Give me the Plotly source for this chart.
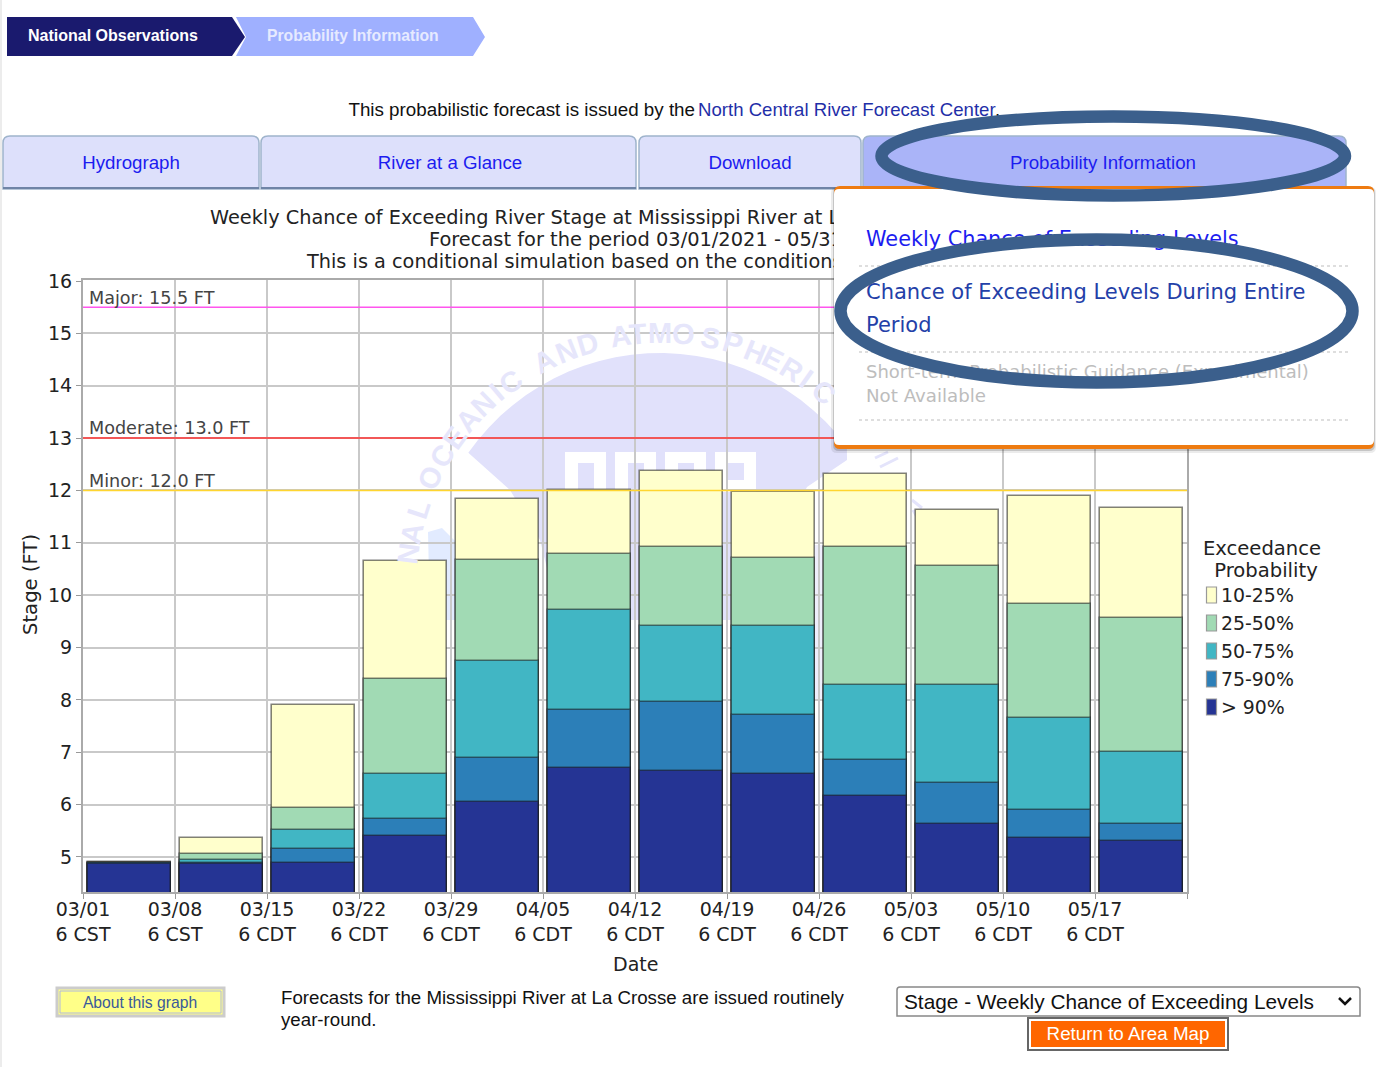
import math
import plotly.graph_objects as go

# ---------- chart data ----------
week_dates = ["03/01", "03/08", "03/15", "03/22", "03/29", "04/05", "04/12", "04/19", "04/26", "05/03", "05/10", "05/17"]
week_zones = ["CST", "CST", "CDT", "CDT", "CDT", "CDT", "CDT", "CDT", "CDT", "CDT", "CDT", "CDT"]
stage_p10 = [4.90, 5.36, 7.90, 10.65, 11.84, 12.01, 12.37, 11.97, 12.31, 11.63, 11.89, 11.66]
stage_p25 = [4.89, 5.06, 5.93, 8.40, 10.67, 10.79, 10.92, 10.71, 10.92, 10.56, 9.83, 9.56]
stage_p50 = [4.89, 4.94, 5.51, 6.58, 8.74, 9.72, 9.41, 9.41, 8.28, 8.28, 7.65, 7.00]
stage_p75 = [4.88, 4.88, 5.15, 5.72, 6.89, 7.81, 7.96, 7.71, 6.85, 6.41, 5.90, 5.63]
stage_p90 = [4.86, 4.86, 4.88, 5.40, 6.05, 6.70, 6.64, 6.58, 6.16, 5.63, 5.36, 5.30]
band_names = ["10-25%", "25-50%", "50-75%", "75-90%", "> 90%"]
band_colors = ["#ffffcc", "#a1dab4", "#41b6c4", "#2c7fb8", "#253494"]
flood_labels = ["Major: 15.5 FT", "Moderate: 13.0 FT", "Minor: 12.0 FT"]
flood_levels = [15.5, 13.0, 12.0]
flood_colors = ["#ff55ee", "#ff3030", "#ffd530"]
stage_ticks = [5, 6, 7, 8, 9, 10, 11, 12, 13, 14, 15, 16]

W, H = 1376, 1067
DJ = "DejaVu Sans"
LS = "Liberation Sans"
BLUE = "#1c1cf0"
LAV = "#e1e1fb"

fig = go.Figure()
shapes, annos = [], []


def px(x):
    return x / W


def py(y):
    return 1 - y / H


def path_str(points, close=True):
    s = "M" + " L".join(f"{px(x):.5f},{py(y):.5f}" for x, y in points)
    return s + (" Z" if close else "")


def poly(points, fill, line=None, lw=0, layer="below"):
    shapes.append(dict(type="path", xref="paper", yref="paper", path=path_str(points), fillcolor=fill,
                       line=dict(color=line or "rgba(0,0,0,0)", width=lw), layer=layer))


def rect(x0, y0, x1, y1, fill, line=None, lw=0, layer="below"):
    shapes.append(dict(type="rect", xref="paper", yref="paper", x0=px(x0), x1=px(x1), y0=py(y0), y1=py(y1),
                       fillcolor=fill, line=dict(color=line or "rgba(0,0,0,0)", width=lw), layer=layer))


def seg(x0, y0, x1, y1, color, lw=1, dash="solid"):
    shapes.append(dict(type="line", xref="paper", yref="paper", x0=px(x0), x1=px(x1), y0=py(y0), y1=py(y1),
                       line=dict(color=color, width=lw, dash=dash), layer="below"))


def rounded(x0, y0, x1, y1, r):
    return (f"M{px(x0)},{py(y1)} L{px(x0)},{py(y0 + r)} Q{px(x0)},{py(y0)} {px(x0 + r)},{py(y0)} "
            f"L{px(x1 - r)},{py(y0)} Q{px(x1)},{py(y0)} {px(x1)},{py(y0 + r)} L{px(x1)},{py(y1)} Z")


def text(x, y, s, size, color="#111111", family=LS, pos="middle right", axes=("x2", "y2"), dy=2):
    fig.add_trace(go.Scatter(x=[x], y=[y + dy], text=[s], mode="text", textposition=pos,
                             textfont=dict(size=size, color=color, family=family), xaxis=axes[0], yaxis=axes[1],
                             showlegend=False, hoverinfo="skip", cliponaxis=False))


# ---------- page background, lowest layer ----------
rect(0, 0, 2, 1067, "#ececec")
# NOAA watermark
cx, cy = 660, 587
arc = [(cx + 234 * math.sin(math.radians(a)), cy - 234 * math.cos(math.radians(a))) for a in range(-55, 56, 4)]
poly(arc + [(847, 460), (807, 487), (790, 520), (780, 620), (560, 620), (540, 540), (510, 490)], LAV)
poly([(428, 532), (442, 528), (456, 542), (470, 620), (430, 620)], "#e2ebff")
poly([(810, 545), (830, 545), (830, 700), (810, 700)], "#eeeefc")
for x0 in (565, 615, 665, 715):
    rect(x0, 452, x0 + 41, 492, "#ffffff")
    rect(x0 + 13, 463, x0 + 29, 480 if x0 > 650 else 492, LAV)
for a, b, c, d in [(875, 458, 888, 452), (880, 467, 898, 458), (912, 500, 922, 508), (913, 510, 923, 527)]:
    seg(a, b, c, d, "#e4e4fb", 3)

# breadcrumb
poly([(7, 17), (232, 17), (245, 37), (232, 56), (7, 56)], "#1a1a6e")
poly([(236, 17), (473, 17), (485, 37), (473, 56), (236, 56), (246, 37)], "#9fb0ff")
# tabs
for x0, x1, fill in [(3, 259, "#dde0fb"), (261, 636, "#dde0fb"), (639, 861, "#dde0fb"), (863, 1346, "#aab4f8")]:
    shapes.append(dict(type="path", xref="paper", yref="paper", path=rounded(x0, 136, x1, 189, 7), fillcolor=fill,
                       line=dict(color="#9fb4cc", width=1.5), layer="below"))
    seg(x0, 188, x1, 188, "#6f84a6", 2)
# bottom controls
rect(57, 988, 224, 1016, "#ffff88", "#cccccc", 3)
rect(60, 991, 221, 1013, "rgba(0,0,0,0)", "#b0b8e0", 1)
shapes.append(dict(type="path", xref="paper", yref="paper", path=rounded(897, 987, 1360, 1016, 3), fillcolor="#ffffff",
                   line=dict(color="#888888", width=1.5), layer="below"))
shapes.append(dict(type="path", xref="paper", yref="paper",
                   path=path_str([(1339, 998), (1345, 1004), (1351, 998)], close=False),
                   fillcolor="rgba(0,0,0,0)", line=dict(color="#111111", width=2.5), layer="below"))
rect(1028, 1018, 1228, 1050, "#ffffff", "#666666", 2)
rect(1031, 1021, 1225, 1047, "#ff6600")

# ---------- bars and flood lines on the chart axes ----------
for name, values, color in zip(band_names, [stage_p10, stage_p25, stage_p50, stage_p75, stage_p90], band_colors):
    fig.add_trace(go.Bar(x=[i + 0.505 for i in range(len(week_dates))], y=values, width=0.895, name=name,
                         marker=dict(color=color, line=dict(color="rgba(25,25,25,0.55)", width=1.6)),
                         showlegend=False, hoverinfo="skip"))
for label, level, color in zip(flood_labels, flood_levels, flood_colors):
    fig.add_trace(go.Scatter(x=[0, len(week_dates)], y=[level, level], mode="lines", name=label,
                             line=dict(color=color, width=1.5), showlegend=False, hoverinfo="skip"))

# ---------- text below the pop-up ----------
text(695, 109, "This probabilistic forecast is issued by the", 18.8, "#111111", LS, "middle left")
text(698, 109, "North Central River Forecast Center", 18.6, "#1f2fa8")
text(995, 109, ".", 18.6, "#111111")
text(28, 36, "<b>National Observations</b>", 16, "#ffffff", dy=1)
text(267, 36, "<b>Probability Information</b>", 15.7, "#e6eaff", dy=1)
text(131, 162, "Hydrograph", 18.7, BLUE, LS, "middle center")
text(450, 162, "River at a Glance", 18.7, BLUE, LS, "middle center")
text(750, 162, "Download", 18.7, BLUE, LS, "middle center")
text(1103, 162, "Probability Information", 18.7, BLUE, LS, "middle center")
text(210, 217, "Weekly Chance of Exceeding River Stage at Mississippi River at La Crosse", 19.3, "#222222", DJ)
text(429, 239, "Forecast for the period 03/01/2021 - 05/31/2021", 19.4, "#222222", DJ)
text(307, 261, "This is a conditional simulation based on the conditions", 19.3, "#222222", DJ)
for label, y in zip(flood_labels, [297, 427, 480]):
    text(89, y, label, 17.6, "#444444", DJ, dy=3)
text(1262, 548, "Exceedance", 19.6, "#222222", DJ, "middle center")
text(1266, 570, "Probability", 19.6, "#222222", DJ, "middle center")
for i, (name, color) in enumerate(zip(band_names, band_colors)):
    yc = 595 + 28 * i
    rect(1206.5, yc - 8, 1216.5, yc + 8, color, "#999999", 1.2)
    text(1221, yc, name, 18.9, "#222222", DJ)
text(140, 1002, "About this graph", 15.7, "#3a5a9a", LS, "middle center")
text(281, 997, "Forecasts for the Mississippi River at La Crosse are issued routinely", 18.7, "#111111", LS)
text(281, 1019, "year-round.", 18.7, "#111111", LS)
text(904, 1002, "Stage - Weekly Chance of Exceeding Levels", 20.8, "#111111", LS)
text(1128, 1033, "Return to Area Map", 18.8, "#ffffff", LS, "middle center")


# ---------- pop-up, drawn between the page text and its own text ----------
def popup_box(x0, y0, x1, y1, r, fill):
    path = (f"M{x0 + r},{y0} L{x1 - r},{y0} Q{x1},{y0} {x1},{y0 + r} L{x1},{y1 - r} Q{x1},{y1} {x1 - r},{y1} "
            f"L{x0 + r},{y1} Q{x0},{y1} {x0},{y1 - r} L{x0},{y0 + r} Q{x0},{y0} {x0 + r},{y0} Z")
    shapes.append(dict(type="path", xref="x3", yref="y3", path=path, fillcolor=fill,
                       line=dict(width=0), layer="below"))


popup_box(831, 187, 1376, 453, 6, "rgba(0,0,0,0.08)")
popup_box(833, 187, 1375, 451, 6, "rgba(0,0,0,0.16)")
popup_box(834, 186, 1374, 449, 6, "#ee7b11")
popup_box(834, 189, 1374, 445, 5, "#ffffff")
for y in (266, 352, 420):
    shapes.append(dict(type="line", xref="x3", yref="y3", x0=859, x1=1350, y0=y, y1=y,
                       line=dict(color="#bdbdbd", width=1, dash="dot"), layer="below"))
pop = ("x3", "y3")
text(866, 238, "Weekly Chance of Exceeding Levels", 20.8, BLUE, DJ, axes=pop, dy=3)
text(866, 291, "Chance of Exceeding Levels During Entire", 21, "#2340a8", DJ, axes=pop, dy=3)
text(866, 324, "Period", 21, "#2340a8", DJ, axes=pop, dy=3)
text(866, 371, "Short-term Probabilistic Guidance (Experimental)", 18, "#bdbdbd", DJ, axes=pop)
text(866, 395, "Not Available", 18.2, "#bdbdbd", DJ, axes=pop)

# ---------- highlight ellipses, over everything ----------
for x0, y0, x1, y1 in [(881.5, 116.5, 1345, 195.5), (840.5, 239.5, 1352.5, 382.5)]:
    shapes.append(dict(type="circle", xref="paper", yref="paper", x0=px(x0), x1=px(x1), y0=py(y0), y1=py(y1),
                       fillcolor="rgba(0,0,0,0)", line=dict(color="#3b5f8c", width=12.5), layer="above"))

# watermark lettering on the arc
wm_letters = [("N", -82.5), ("A", -77.7), ("L", -72), ("O", -64.4), ("C", -59), ("E", -54), ("A", -49), ("N", -44),
              ("I", -40), ("C", -36), ("A", -27), ("N", -21.5), ("D", -16.6), ("A", -9), ("T", -5), ("M", 0),
              ("O", 5.2), ("S", 11.4), ("P", 16.5), ("H", 22), ("E", 26.4), ("R", 31.3), ("I", 35.2), ("C", 40)]
for ch, ang in wm_letters:
    annos.append(dict(xref="x2", yref="y2", x=cx + 254 * math.sin(math.radians(ang)),
                      y=cy - 254 * math.cos(math.radians(ang)), text=f"<b>{ch}</b>", textangle=ang, showarrow=False,
                      font=dict(size=29, color="#e6e6fb", family=LS)))

axis_font = dict(size=19, color="#222222", family=DJ)
annos.append(dict(xref="x2", yref="y2", x=635, y=964, text="Date", showarrow=False, font=axis_font))
annos.append(dict(xref="x2", yref="y2", x=30, y=585, text="Stage (FT)", textangle=-90, showarrow=False,
                  font=dict(size=19.6, color="#222222", family=DJ)))
hidden = dict(visible=False, showgrid=False, zeroline=False, domain=[0, 1], fixedrange=True)
fig.update_layout(
    width=W, height=H, margin=dict(l=0, r=0, t=0, b=0, autoexpand=False), autosize=False, barmode="overlay", bargap=0,
    paper_bgcolor="#ffffff", plot_bgcolor="rgba(0,0,0,0)", showlegend=False, shapes=shapes, annotations=annos,
    font=dict(family=DJ),
    xaxis=dict(domain=[px(83), px(1187)], range=[0, 12], tickmode="array", tickvals=list(range(13)),
               ticktext=[f"{d}<br>6 {z}" for d, z in zip(week_dates, week_zones)] + [""], tickangle=0,
               showgrid=True, gridcolor="#c9c9c9", gridwidth=1.6, zeroline=False, showline=True, linecolor="#aaaaaa",
               linewidth=2, mirror=True, ticks="outside", ticklen=5, tickcolor="#999999", tickfont=axis_font,
               ticklabelstandoff=-6, automargin=False),
    yaxis=dict(domain=[py(892), py(280)], range=[16 - (892 - 281) / 52.36, 16 + 1 / 52.36], tickmode="array",
               tickvals=stage_ticks, showgrid=True, gridcolor="#c9c9c9", gridwidth=1.6, zeroline=False, showline=True,
               linecolor="#aaaaaa", linewidth=2, mirror=True, ticks="outside", ticklen=5, tickcolor="#999999",
               tickfont=axis_font, automargin=False),
    xaxis2=dict(range=[0, W], anchor="y2", **hidden),
    yaxis2=dict(range=[H, 0], anchor="x2", **hidden),
    xaxis3=dict(range=[0, W], anchor="y3", **hidden),
    yaxis3=dict(range=[H, 0], anchor="x3", **hidden),
)

fig.write_html("out.html", config=dict(displayModeBar=False),
               post_script="document.body.style.margin='0';document.body.style.overflow='hidden';")
